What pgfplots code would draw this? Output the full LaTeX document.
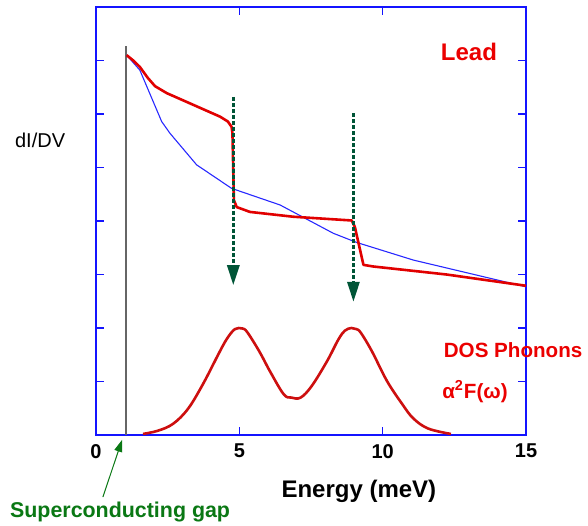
\documentclass[border=0pt]{standalone}
\usepackage{pgfplots}
\pgfplotsset{compat=1.18}
\usepackage{fontspec}
\setmainfont{Liberation Sans}
\usetikzlibrary{arrows.meta}
\definecolor{axblue}{RGB}{20,20,255}
\definecolor{leadred}{RGB}{225,0,0}
\definecolor{dosred}{RGB}{205,15,15}
\definecolor{curveblue}{RGB}{40,40,255}
\definecolor{arrgreen}{RGB}{0,85,55}
\definecolor{txtgreen}{RGB}{10,120,20}
\definecolor{txtred}{RGB}{235,0,0}
\begin{document}
\begin{tikzpicture}
\path[use as bounding box] (-48pt,-45pt) rectangle (246pt,217.5pt);
\begin{axis}[
  at={(0,0)}, anchor=south west,
  scale only axis, width=215pt, height=214pt,
  xmin=0, xmax=15, ymin=0, ymax=8,
  xtick={0,5,10,15}, ytick={1,2,3,4,5,6,7},
  yticklabels={},
  tick align=inside, major tick length=4pt,
  xtick pos=both, ytick pos=both,
  axis line style={axblue, line width=0.6pt},
  every tick/.style={axblue, line width=0.6pt},
  /pgf/number format/assume math mode=true,
  xticklabel style={font=\bfseries\fontsize{10}{12}\selectfont, yshift=-1pt},
  clip=false,
]
% superconducting gap line
\addplot[black!60, line width=0.7pt] coordinates {(1.05,0) (1.05,7.27)};
% blue (normal) curve
\addplot[curveblue, line width=0.55pt] coordinates {
(1.07,7.10) (1.53,6.82) (2.29,5.86) (2.58,5.64) (3.51,5.05) (4.73,4.61)
(6.42,4.30) (8.28,3.77) (9.09,3.60) (11.07,3.27) (15,2.77)};
% red (lead) curve
\addplot[leadred, line width=1.3pt, line join=round] coordinates {
(1.07,7.10) (1.30,7.00) (1.53,6.88) (1.80,6.68) (2.06,6.52) (2.47,6.39) (3.40,6.17) (4.33,5.95)
(4.60,5.86) (4.73,5.76) (4.76,5.64) (4.81,4.39) (4.91,4.26) (5.37,4.17) (6.88,4.08)
(8.92,4.01) (9.03,3.89) (9.33,3.18) (9.67,3.15) (12.23,3.00) (15,2.79)};
% phonon DOS
\addplot[dosred, line width=1.3pt, smooth, tension=0.6] coordinates {
(1.64,0.02) (2.16,0.08) (2.69,0.21) (3.21,0.49) (3.73,0.95) (4.26,1.50)
(4.50,1.74) (4.70,1.90) (4.85,1.98) (4.98,2.00) (5.12,1.99) (5.28,1.92) (5.70,1.56) (6.09,1.17) (6.55,0.76)
(6.81,0.70) (7.14,0.70) (7.53,0.92) (8.06,1.38) (8.45,1.78) (8.68,1.95) (8.91,2.00)
(9.08,1.98) (9.24,1.91) (9.63,1.56) (10.15,1.01) (10.68,0.58) (11.07,0.31) (11.59,0.12)
(12.38,0.02)};
% dashed arrows
\addplot[arrgreen, line width=1.5pt, dash pattern=on 2pt off 1pt,
  -{Triangle[width=6pt,length=10pt]}] coordinates {(4.79,6.32) (4.79,2.80)};
\addplot[arrgreen, line width=1.5pt, dash pattern=on 2pt off 1pt,
  -{Triangle[width=6pt,length=10pt]}] coordinates {(8.98,6.01) (8.98,2.49)};
% texts
\node[txtred, font=\bfseries\fontsize{12}{14}\selectfont] at (axis cs:13.01,7.16) {Lead};
\node[black, font=\fontsize{10}{12}\selectfont] at (axis cs:-1.95,5.51) {dI/DV};
\node[txtred, font=\bfseries\fontsize{10.3}{12}\selectfont] at (axis cs:14.55,1.59) {DOS Phonons};
\node[txtred, font=\bfseries\fontsize{10.3}{12}\selectfont] at (axis cs:13.22,0.81) {α\textsuperscript{2}F(ω)};
\node[black, font=\bfseries\fontsize{12}{14}\selectfont] at (axis cs:9.17,-1.05) {Energy (meV)};
\node[txtgreen, font=\bfseries\fontsize{10.7}{12}\selectfont] at (axis cs:0.84,-1.44) {Superconducting gap};
\draw[txtgreen, line width=0.5pt, -{Triangle[width=4pt,length=6pt]}] (axis cs:0.24,-1.16) -- (axis cs:0.91,-0.09);
\end{axis}
\end{tikzpicture}
\end{document}
